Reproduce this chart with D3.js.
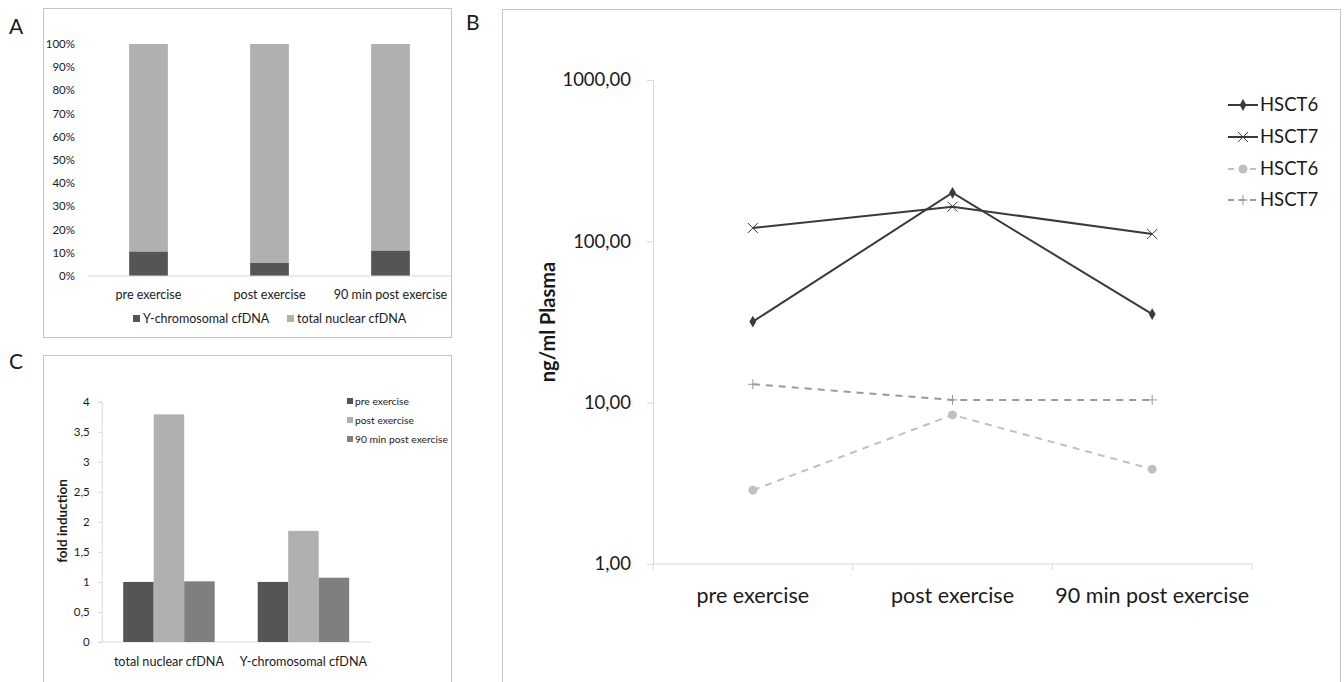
<!DOCTYPE html>
<html>
<head>
<meta charset="utf-8">
<script src="https://cdn.jsdelivr.net/npm/d3@7"></script>
<style>
  body { margin: 0; background: #fff; }
  svg text { font-family: Lato, "Open Sans", sans-serif; fill: #1a1a1a; }
</style>
</head>
<body>
<div id="chart"></div>
<script>
// ---- data ----
let time_points = ["pre exercise", "post exercise", "90 min post exercise"];

// panel A: share of Y-chromosomal cfDNA in total (%), rest is total nuclear
let a_series = ["Y-chromosomal cfDNA", "total nuclear cfDNA"];
let a_y_share = [0.105, 0.056, 0.109];
let a_ticks = [0, 0.1, 0.2, 0.3, 0.4, 0.5, 0.6, 0.7, 0.8, 0.9, 1.0];

// panel B: ng/ml plasma (log)
let b_names = ["HSCT6", "HSCT7", "HSCT6", "HSCT7"];
let b_hsct6 = [31.8, 200, 35.4];
let b_hsct7 = [121, 164, 111];
let b_hsct6_y = [2.87, 8.4, 3.87];
let b_hsct7_y = [13.0, 10.4, 10.4];
let b_ticks = [1, 10, 100, 1000];

// panel C: fold induction
let c_groups = ["total nuclear cfDNA", "Y-chromosomal cfDNA"];
let c_pre = [1.0, 1.0];
let c_post = [3.79, 1.85];
let c_90 = [1.01, 1.07];
let c_ticks = [0, 0.5, 1, 1.5, 2, 2.5, 3, 3.5, 4];

let a_colors = ["#555555", "#b0b0b0"];
let c_colors = ["#555555", "#b0b0b0", "#7f7f7f"];
let axis_color = "#d9d9d9";
let border_color = "#c4c4c4";

let comma = function(fmt) {
    return function(v) { return d3.format(fmt)(v).replace(".", ","); };
};

let svg = d3.select("#chart").append("svg")
    .attr("width", 1344)
    .attr("height", 682);

// panel letters
svg.append("text").attr("x", 9).attr("y", 34).attr("font-size", "21px").text("A");
svg.append("text").attr("x", 466).attr("y", 30).attr("font-size", "21px").text("B");
svg.append("text").attr("x", 9).attr("y", 369).attr("font-size", "21px").text("C");

// ================= panel A =================
let pa = svg.append("g");
pa.append("rect").attr("x", 43.5).attr("y", 8.5).attr("width", 408).attr("height", 329)
    .attr("fill", "none").attr("stroke", border_color);

let a_x = d3.scaleBand().domain(time_points).range([88, 451])
    .paddingInner(0.68).paddingOuter(0.34);
let a_y = d3.scaleLinear().domain([0, 1]).range([276, 44]);

pa.selectAll(".a_tick")
    .data(a_ticks)
    .enter()
    .append("text")
    .attr("class", "a_tick")
    .attr("x", 75)
    .attr("y", function(d) { return a_y(d); })
    .attr("dy", "0.35em")
    .attr("text-anchor", "end")
    .attr("font-size", "11.5px")
    .text(function(d) { return d3.format(".0%")(d); });

// total nuclear (top part)
pa.selectAll(".a_top")
    .data(time_points)
    .enter()
    .append("rect")
    .attr("x", function(d) { return a_x(d); })
    .attr("y", a_y(1))
    .attr("width", a_x.bandwidth())
    .attr("height", function(d, i) { return a_y(a_y_share[i]) - a_y(1); })
    .attr("fill", a_colors[1]);

// Y-chromosomal (bottom part)
pa.selectAll(".a_bot")
    .data(time_points)
    .enter()
    .append("rect")
    .attr("x", function(d) { return a_x(d); })
    .attr("y", function(d, i) { return a_y(a_y_share[i]); })
    .attr("width", a_x.bandwidth())
    .attr("height", function(d, i) { return a_y(0) - a_y(a_y_share[i]); })
    .attr("fill", a_colors[0]);

pa.append("line").attr("x1", 88).attr("x2", 451).attr("y1", a_y(0)).attr("y2", a_y(0))
    .attr("stroke", axis_color).attr("stroke-width", 1);

pa.selectAll(".a_cat")
    .data(time_points)
    .enter()
    .append("text")
    .attr("x", function(d) { return a_x(d) + a_x.bandwidth() / 2; })
    .attr("y", 298.5)
    .attr("text-anchor", "middle")
    .attr("font-size", "12.6px")
    .text(function(d) { return d; });

let a_leg_x = [133, 287];
a_series.forEach(function(s, i) {
    pa.append("rect").attr("x", a_leg_x[i]).attr("y", 315).attr("width", 7).attr("height", 7)
        .attr("fill", a_colors[i]);
    pa.append("text").attr("x", a_leg_x[i] + 10).attr("y", 322.5)
        .attr("font-size", "12.5px").text(s);
});

// ================= panel C =================
let pc = svg.append("g");
pc.append("rect").attr("x", 43.5).attr("y", 355.5).attr("width", 408).attr("height", 340)
    .attr("fill", "none").attr("stroke", border_color);

let c_x0 = d3.scaleBand().domain(c_groups).range([101.7, 370.7])
    .paddingInner(0.32).paddingOuter(0.16);
let c_x1 = d3.scaleBand().domain(time_points).range([0, c_x0.bandwidth()]);
let c_y = d3.scaleLinear().domain([0, 4]).range([642, 401.7]);

let c_axis = pc.append("g")
    .attr("transform", "translate(101.7,0)")
    .call(d3.axisLeft(c_y).tickValues(c_ticks).tickSize(4).tickPadding(8).tickFormat(comma("")));
c_axis.selectAll("line, path").attr("stroke", axis_color);
c_axis.selectAll("text").attr("font-size", "11.5px").attr("font-family", "Lato, sans-serif").attr("fill", "#1a1a1a");

pc.append("line").attr("x1", 101.7).attr("x2", 370.7).attr("y1", c_y(0)).attr("y2", c_y(0))
    .attr("stroke", axis_color);

let c_vals = [c_pre, c_post, c_90];
c_groups.forEach(function(g, gi) {
    pc.selectAll(".c_bar_" + gi)
        .data(time_points)
        .enter()
        .append("rect")
        .attr("x", function(d) { return c_x0(g) + c_x1(d); })
        .attr("y", function(d, si) { return c_y(c_vals[si][gi]); })
        .attr("width", c_x1.bandwidth())
        .attr("height", function(d, si) { return c_y(0) - c_y(c_vals[si][gi]); })
        .attr("fill", function(d, si) { return c_colors[si]; });
});

pc.selectAll(".c_cat")
    .data(c_groups)
    .enter()
    .append("text")
    .attr("x", function(d) { return c_x0(d) + c_x0.bandwidth() / 2; })
    .attr("y", 666)
    .attr("text-anchor", "middle")
    .attr("font-size", "12.6px")
    .text(function(d) { return d; });

pc.append("text")
    .attr("transform", "translate(66.5,521) rotate(-90)")
    .attr("text-anchor", "middle")
    .attr("font-size", "13.5px")
    .attr("font-weight", "bold")
    .text("fold induction");

time_points.forEach(function(s, i) {
    pc.append("rect").attr("x", 347).attr("y", 398 + i * 19).attr("width", 6).attr("height", 6)
        .attr("fill", c_colors[i]);
    pc.append("text").attr("x", 355).attr("y", 404.5 + i * 19)
        .attr("font-size", "10.3px").text(s);
});

// ================= panel B =================
let pb = svg.append("g");
pb.append("rect").attr("x", 502.5).attr("y", 9.5).attr("width", 838).attr("height", 700)
    .attr("fill", "none").attr("stroke", border_color);

let b_x = d3.scaleBand().domain(time_points).range([653, 1252]);
let b_y = d3.scaleLog().domain([1, 1000]).range([564, 80]);
let b_cx = function(d) { return b_x(d) + b_x.bandwidth() / 2; };

let b_yaxis = pb.append("g")
    .attr("transform", "translate(653,0)")
    .call(d3.axisLeft(b_y).tickValues(b_ticks).tickSize(6).tickPadding(16).tickFormat(comma(".2f")));
b_yaxis.selectAll("line, path").attr("stroke", axis_color);
b_yaxis.selectAll("text").attr("font-size", "18.5px").attr("font-family", "Lato, sans-serif").attr("fill", "#1a1a1a");

pb.append("line").attr("x1", 653).attr("x2", 1252).attr("y1", b_y(1)).attr("y2", b_y(1))
    .attr("stroke", axis_color);
pb.selectAll(".b_xtick")
    .data(time_points.concat(["end"]))
    .enter()
    .append("line")
    .attr("x1", function(d, i) { return 653 + i * b_x.step(); })
    .attr("x2", function(d, i) { return 653 + i * b_x.step(); })
    .attr("y1", b_y(1))
    .attr("y2", b_y(1) + 6)
    .attr("stroke", axis_color);

pb.selectAll(".b_cat")
    .data(time_points)
    .enter()
    .append("text")
    .attr("x", b_cx)
    .attr("y", 603)
    .attr("text-anchor", "middle")
    .attr("font-size", "21.5px")
    .text(function(d) { return d; });

pb.append("text")
    .attr("transform", "translate(555,322) rotate(-90)")
    .attr("text-anchor", "middle")
    .attr("font-size", "20px")
    .attr("font-weight", "bold")
    .text("ng/ml Plasma");

let b_series = [
    { name: b_names[0], values: b_hsct6, color: "#3a3a3a", dash: null, marker: "diamond" },
    { name: b_names[1], values: b_hsct7, color: "#3a3a3a", dash: null, marker: "cross" },
    { name: b_names[2], values: b_hsct6_y, color: "#c0c0c0", dash: "7,6", marker: "circle" },
    { name: b_names[3], values: b_hsct7_y, color: "#9a9a9a", dash: "7,6", marker: "plus" }
];

let line = d3.line()
    .x(function(d, i) { return b_cx(time_points[i]); })
    .y(function(d) { return b_y(d); });

function draw_marker(g, kind, x, y, color) {
    if (kind === "diamond") {
        g.append("path").attr("d", d3.symbol(d3.symbolDiamond, 40)())
            .attr("transform", "translate(" + x + "," + y + ")").attr("fill", color);
    } else if (kind === "circle") {
        g.append("circle").attr("cx", x).attr("cy", y).attr("r", 4.5).attr("fill", color);
    } else if (kind === "cross") {
        g.append("path").attr("d", "M-5,-5L5,5M-5,5L5,-5")
            .attr("transform", "translate(" + x + "," + y + ")")
            .attr("stroke", color).attr("stroke-width", 1).attr("fill", "none");
    } else {
        g.append("path").attr("d", "M-5,0L5,0M0,-5L0,5")
            .attr("transform", "translate(" + x + "," + y + ")")
            .attr("stroke", color).attr("stroke-width", 1).attr("fill", "none");
    }
}

// draw dashed series first, solid on top
[2, 3, 0, 1].forEach(function(si) {
    let s = b_series[si];
    pb.append("path")
        .datum(s.values)
        .attr("d", line)
        .attr("fill", "none")
        .attr("stroke", s.color)
        .attr("stroke-width", 2)
        .attr("stroke-dasharray", s.dash);
    s.values.forEach(function(v, i) {
        draw_marker(pb, s.marker, b_cx(time_points[i]), b_y(v), s.color);
    });
});

let b_leg_y = [105, 137, 169, 200];
b_series.forEach(function(s, i) {
    pb.append("line").attr("x1", 1228).attr("x2", 1258)
        .attr("y1", b_leg_y[i]).attr("y2", b_leg_y[i])
        .attr("stroke", s.color).attr("stroke-width", 2)
        .attr("stroke-dasharray", s.dash ? "6,5" : null);
    draw_marker(pb, s.marker, 1243, b_leg_y[i], s.color);
    pb.append("text").attr("x", 1260).attr("y", b_leg_y[i]).attr("dy", "0.35em")
        .attr("font-size", "18.5px").text(s.name);
});
</script>
</body>
</html>
